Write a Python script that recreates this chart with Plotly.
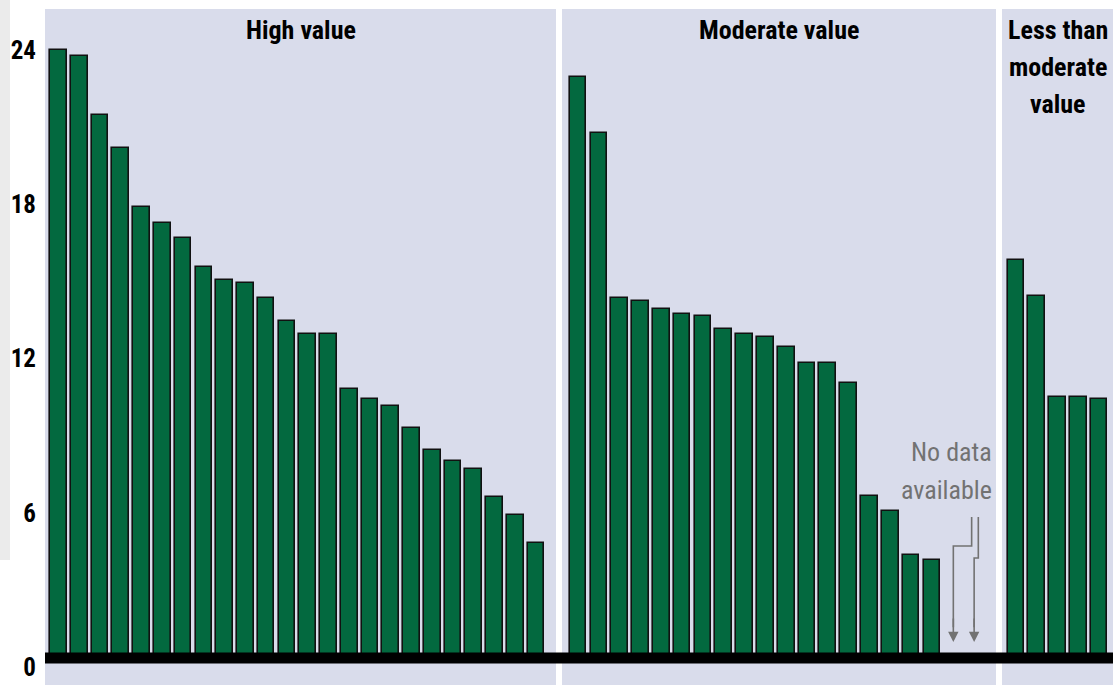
import plotly.graph_objects as go

# ---- data ----
high_values = [23.66, 23.42, 21.13, 19.84, 17.55, 16.93, 16.34, 15.21, 14.71, 14.59,
               14.01, 13.11, 12.61, 12.61, 10.47, 10.08, 9.81, 8.95, 8.09, 7.67,
               7.35, 6.26, 5.56, 4.47]
moderate_values = [22.61, 20.43, 14.01, 13.89, 13.58, 13.39, 13.31, 12.80, 12.61, 12.49,
                   12.10, 11.48, 11.48, 10.70, 6.30, 5.72, 4.01, 3.81, None, None]
less_values = [15.49, 14.09, 10.16, 10.16, 10.08]

panel_titles = [["High value"], ["Moderate value"], ["Less than", "moderate", "value"]]
y_ticks = [0, 6, 12, 18, 24]
no_data_lines = ["No data", "available"]

# ---- style ----
FONT = "Liberation Sans Narrow, Arial Narrow, Roboto Condensed, DejaVu Sans Condensed, sans-serif"
BAR = "#03693f"
BG = "#d9dceb"
GRAY = "#727272"

fig = go.Figure()

def add_bars(vals, xa):
    fig.add_trace(go.Bar(
        x=list(range(len(vals))), y=vals, xaxis=xa, yaxis="y",
        width=0.8, marker=dict(color=BAR, line=dict(color="#111111", width=1.6)),
        hoverinfo="skip", showlegend=False))

add_bars(high_values, "x")
add_bars(moderate_values, "x2")
add_bars(less_values, "x3")

W, H = 1113, 685
L = 45
T = 9
pw = W - L
ph = H - T
d1 = [0, (556 - L) / pw]
d2 = [(562 - L) / pw, (996 - L) / pw]
d3 = [(1002 - L) / pw, 1.0]

xcommon = dict(showticklabels=False, showgrid=False, zeroline=False, ticks="",
               fixedrange=True, anchor="y")
fig.update_layout(
    width=W, height=H,
    margin=dict(l=L, r=0, t=T, b=0),
    paper_bgcolor="white", plot_bgcolor=BG,
    bargap=0,
    xaxis=dict(domain=d1, range=[-0.65, len(high_values) - 1 + 0.96], **xcommon),
    xaxis2=dict(domain=d2, range=[-0.77, len(moderate_values) - 1 + 1.08], **xcommon),
    xaxis3=dict(domain=d3, range=[-0.67, len(less_values) - 1 + 0.67], **xcommon),
    yaxis=dict(range=[-1.05, 25.25], tickvals=y_ticks, ticktext=[str(t) for t in y_ticks],
               showgrid=False, zeroline=False, ticks="", ticklabelstandoff=8,
               ticklabelshift=9,
               tickfont=dict(family=FONT, size=25, color="black", weight="bold"),
               fixedrange=True),
    font=dict(family=FONT),
)

# baseline
fig.add_shape(type="line", xref="paper", yref="y", x0=0, x1=1, y0=0, y1=0,
              line=dict(color="black", width=11))

# left gray strip (scan artifact)
fig.add_shape(type="rect", xref="paper", yref="paper", x0=-L / pw, x1=(10 - L) / pw,
              y0=(H - 560) / ph, y1=(H) / ph, fillcolor="#ebebeb", line_width=0, layer="below")

# panel titles
for xa, lines in zip(["x", "x2", "x3"], panel_titles):
    for i, txt in enumerate(lines):
        fig.add_annotation(xref=f"{xa} domain", yref="paper", x=0.5, y=1.0, yanchor="middle",
                           yshift=-(21 + 37 * i), text=txt, showarrow=False,
                           font=dict(family=FONT, size=26, color="black", weight="bold"))

# no data note
for txt, yv in zip(no_data_lines, [8.02, 6.54]):
    fig.add_annotation(xref="x2", yref="y", x=19.97, y=yv, xanchor="right", yanchor="middle",
                       text=txt, showarrow=False, align="right",
                       font=dict(family=FONT, size=26, color=GRAY))

# bracket lines to arrows
fig.add_shape(type="path", xref="x2", yref="y",
              path="M 18.91 5.49 L 18.91 4.36 L 18.03 4.36 L 18.03 1.2",
              line=dict(color=GRAY, width=1.6))
fig.add_shape(type="path", xref="x2", yref="y",
              path="M 19.23 5.49 L 19.23 3.89 L 19.03 3.89 L 19.03 1.2",
              line=dict(color=GRAY, width=1.6))
for xv in [18.03, 19.03]:
    fig.add_annotation(xref="x2", yref="y", x=xv, y=0.62, ax=xv, ay=1.6,
                       axref="x2", ayref="y", showarrow=True, text="",
                       arrowhead=2, arrowsize=1.3, arrowwidth=1.6, arrowcolor=GRAY)

fig.write_html("out.html", config={"displayModeBar": False},
               post_script="document.body.style.margin='0px';")
